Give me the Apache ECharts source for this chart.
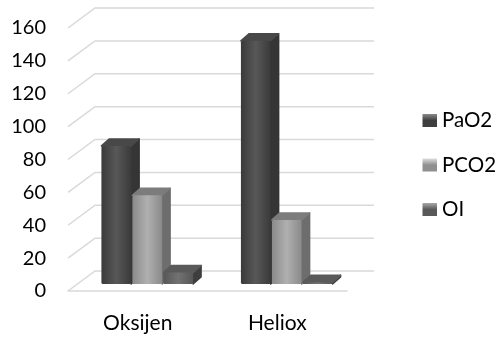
<!DOCTYPE html>
<html>
<head>
<meta charset="utf-8">
<style>html,body{margin:0;padding:0;background:#fff}#c{width:495px;height:338px}</style>
<script src="https://cdn.jsdelivr.net/npm/echarts@6/dist/echarts.min.js"></script>
</head>
<body>
<div id="c"></div>
<script>
const categories = ['Oksijen', 'Heliox'];
const seriesNames = ['PaO2', 'PCO2', 'OI'];
const paO2 = [84, 148];
const pCO2 = [54, 39];
const oi = [7, 1];
const yTicks = [0, 20, 40, 60, 80, 100, 120, 140, 160];

// Box depth and wall depth of the pseudo-3D look, in pixels
const WALL_DX = 27, WALL_DY = -20;
const BAR_SHIFT_X = 9.5, BAR_SHIFT_Y = -7;
const BAR_DX = 8, BAR_DY = -7;

const palettes = [
  { edge: '#3a3a3a', mid: '#585858', side: '#353535', top: '#484848' },
  { edge: '#8a8a8a', mid: '#b0b0b0', side: '#6d6d6d', top: '#7c7c7c' },
  { edge: '#565656', mid: '#727272', side: '#3e3e3e', top: '#5a5a5a' }
];

function hGrad(p) {
  return new echarts.graphic.LinearGradient(0, 0, 1, 0, [
    { offset: 0, color: p.edge }, { offset: 0.5, color: p.mid }, { offset: 1, color: p.edge }
  ]);
}

// Draws one bar as front, side and top faces, from the axis scale
function barItem(seriesIdx) {
  return function (params, api) {
    const cat = api.value(0), val = api.value(1);
    const base = api.coord([cat, 0]);
    const top = api.coord([cat, val]);
    const band = api.size([1, 0])[0];
    const w = band * 0.213, step = band * 0.222;
    const x0 = base[0] + (seriesIdx - 1) * step - w / 2 + BAR_SHIFT_X;
    const x1 = x0 + w;
    const yb = base[1] + BAR_SHIFT_Y, yt = top[1] + BAR_SHIFT_Y;
    const p = palettes[seriesIdx];
    const soft = (c) => ({ fill: c, stroke: c, lineWidth: 1.5, lineJoin: 'round' });
    return {
      type: 'group',
      children: [
        { type: 'polygon', shape: { points: [[x1, yb], [x1 + BAR_DX, yb + BAR_DY], [x1 + BAR_DX, yt + BAR_DY], [x1, yt]] }, style: soft(p.side) },
        { type: 'polygon', shape: { points: [[x0, yt], [x0 + BAR_DX, yt + BAR_DY], [x1 + BAR_DX, yt + BAR_DY], [x1, yt]] }, style: soft(p.top) },
        { type: 'rect', shape: { x: x0, y: yt, width: w, height: yb - yt, r: 1.5 }, style: { fill: hGrad(p) } }
      ]
    };
  };
}

// Gridlines: diagonal on the side wall, then straight along the back wall
function wallItem(params, api) {
  const y = api.coord([0, api.value(0)])[1];
  const left = params.coordSys.x, right = left + params.coordSys.width;
  return {
    type: 'polyline',
    silent: true,
    shape: { points: [[left, y], [left + WALL_DX, y + WALL_DY], [right + WALL_DX, y + WALL_DY]] },
    style: { fill: null, stroke: '#d9d9d9', lineWidth: 1.5 }
  };
}

const legendColor = (light, dark) => new echarts.graphic.LinearGradient(0, 0, 0, 1, [
  { offset: 0, color: light }, { offset: 0.5, color: dark }, { offset: 1, color: dark }
]);

const values = [paO2, pCO2, oi];
const chart = echarts.init(document.getElementById('c'), null, { renderer: 'canvas' });
chart.setOption({
  animation: false,
  backgroundColor: '#fff',
  textStyle: { fontFamily: 'Lato', color: '#000' },
  grid: { left: 68, right: 148, top: 28, bottom: 47 },
  legend: {
    orient: 'vertical',
    left: 417.5,
    top: 105,
    itemWidth: 14.5,
    itemHeight: 13,
    itemGap: 23.5,
    selectedMode: false,
    icon: 'rect',
    textStyle: { fontFamily: 'Lato', fontSize: 20.5, color: '#000', padding: [0, 0, 0, 0] },
    data: [
      { name: 'PaO2', itemStyle: { color: legendColor('#8a8a8a', '#3f3f3f') } },
      { name: 'PCO2', itemStyle: { color: legendColor('#dedede', '#8f8f8f') } },
      { name: 'OI', itemStyle: { color: legendColor('#a8a8a8', '#595959') } }
    ]
  },
  xAxis: {
    type: 'category',
    data: categories,
    axisLine: { show: true, lineStyle: { color: '#d9d9d9', width: 1.5 } },
    axisTick: { show: false },
    axisLabel: { fontFamily: 'Lato', fontSize: 21, color: '#000', margin: 22 }
  },
  yAxis: {
    type: 'value',
    min: 0,
    max: 160,
    interval: 20,
    axisLine: { show: false },
    axisTick: { show: false },
    splitLine: { show: false },
    axisLabel: { fontFamily: 'Lato', fontSize: 20, color: '#000', margin: 22, padding: [2, 0, 0, 0] }
  },
  series: [
    { type: 'custom', silent: true, z: 1, renderItem: wallItem, data: yTicks.map(t => [t]), encode: { y: 0 }, clip: false }
  ].concat(seriesNames.map((name, i) => ({
    type: 'custom',
    name,
    z: 2,
    clip: false,
    renderItem: barItem(i),
    encode: { x: 0, y: 1 },
    data: categories.map((c, j) => [j, values[i][j]])
  })))
});
</script>
</body>
</html>
